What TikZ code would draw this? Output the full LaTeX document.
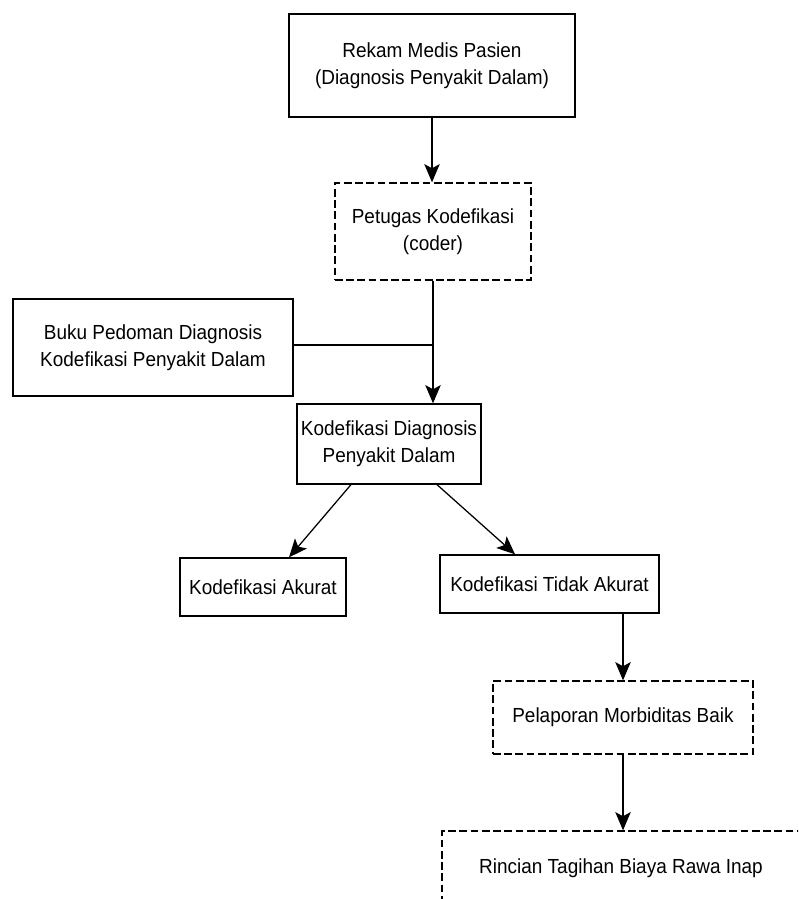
\documentclass[tikz,border=0pt]{standalone}
\usepackage{fontspec}
\setmainfont[FakeStretch=0.93]{Liberation Sans}
\usetikzlibrary{arrows.meta, positioning, calc}

\begin{document}
\begin{tikzpicture}[x=0.025cm, y=-0.025cm,
        font=\fontsize{14.5}{19}\selectfont,
        boxS/.style={rectangle, draw=black, line width=0.9pt, fill=white, align=center,
                     inner sep=0pt},
        boxD/.style={boxS, dash pattern=on 5.5pt off 2.5pt},
        panah/.style={-{Stealth[length=13pt, width=11pt, inset=3pt]}, line width=0.9pt}
    ]
        \clip (0,0) rectangle (798,899);
        \fill[white] (0,0) rectangle (798,899);

        \node[boxS, minimum width=7.15cm, minimum height=2.575cm] (rekam) at (432,65.5)
            {Rekam Medis Pasien\\(Diagnosis Penyakit Dalam)};
        \node[boxD, minimum width=4.9cm, minimum height=2.425cm] (petugas) at (433,231.5)
            {Petugas Kodefikasi\\(coder)};
        \node[boxS, minimum width=7.0cm, minimum height=2.425cm] (buku) at (153,347.5)
            {Buku Pedoman Diagnosis\\Kodefikasi Penyakit Dalam};
        \node[boxS, minimum width=4.6cm, minimum height=2.0cm] (kode) at (389,444)
            {Kodefikasi Diagnosis\\Penyakit Dalam};
        \node[boxS, minimum width=4.15cm, minimum height=1.45cm] (akurat) at (263,587)
            {Kodefikasi Akurat};
        \node[boxS, minimum width=5.475cm, minimum height=1.45cm] (tidak) at (549.5,584)
            {Kodefikasi Tidak Akurat};
        \node[boxD, minimum width=6.5cm, minimum height=1.825cm] (lapor) at (623,717.5)
            {Pelaporan Morbiditas Baik};
        \node[boxD, minimum width=8.95cm, minimum height=1.85cm] (rincian) at (621,868)
            {Rincian Tagihan Biaya Rawa Inap};

        \draw[panah] (rekam.south) -- (rekam.south |- petugas.north);
        \draw[panah] (petugas.south) -- (petugas.south |- kode.north);
        \draw[line width=0.9pt] ([yshift=0.06cm]buku.east) -- ([yshift=0.06cm]buku.east -| petugas.south);
        \draw[panah] ([xshift=-0.95cm]kode.south) -- ([xshift=0.65cm]akurat.north);
        \draw[panah] ([xshift=1.2cm]kode.south) -- ([xshift=-0.86cm]tidak.north);
        \draw[panah] (tidak.south -| lapor.north) -- (lapor.north);
        \draw[panah] (lapor.south) -- (lapor.south |- rincian.north);
    \end{tikzpicture}
\end{document}
